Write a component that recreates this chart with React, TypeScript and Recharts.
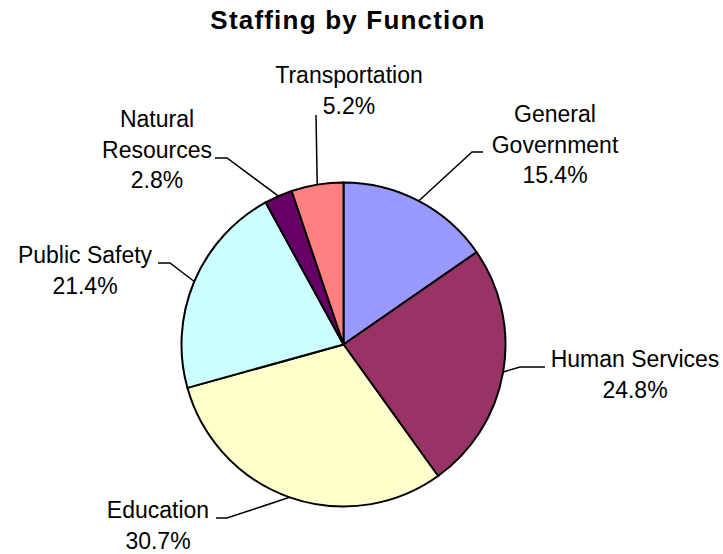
import React from "react";
import { PieChart, Pie, Cell } from "recharts";

const functions = [
  "General Government",
  "Human Services",
  "Education",
  "Public Safety",
  "Natural Resources",
  "Transportation",
];
const labelLines = [
  ["General", "Government"],
  ["Human Services"],
  ["Education"],
  ["Public Safety"],
  ["Natural", "Resources"],
  ["Transportation"],
];
const staffShare = [15.4, 24.8, 30.7, 21.4, 2.8, 5.2];
const sliceColors = ["#9999FF", "#993366", "#FFFFCC", "#CCFFFF", "#660066", "#FF8080"];

// where each label sits, relative to the pie centre
// tx/ty = text centre + first baseline, bx/by = leader elbow, hx = end of the flat bit
const labelSpots = [
  { tx: 211.5, ty: -222.5, bx: 128.5, by: -192.5, hx: 139.5 },
  { tx: 291.5, ty: 22.5, bx: 176.5, by: 22.5, hx: 201.5 },
  { tx: -185.5, ty: 173.5, bx: -116.5, by: 173.5, hx: -127.5 },
  { tx: -258.5, ty: -81.5, bx: -173.5, by: -81.5, hx: -185.5 },
  { tx: -186.5, ty: -217.5, bx: -116.5, by: -186.5, hx: -128.5 },
  { tx: 5.5, ty: -261.5, bx: -27.5, by: -229.5, hx: -27.5 },
];

const data = functions.map((name, i) => ({ name, share: staffShare[i] }));

const FONT = "'Liberation Sans', Arial, sans-serif";
const RAD = Math.PI / 180;

const renderLabel = (props: any) => {
  const { cx, cy, midAngle, outerRadius, index } = props;
  const spot = labelSpots[index];
  const ex = cx + outerRadius * Math.cos(-midAngle * RAD);
  const ey = cy + outerRadius * Math.sin(-midAngle * RAD);
  const lines = [...labelLines[index], staffShare[index].toFixed(1) + "%"];
  return (
    <g key={`lbl-${index}`}>
      <polyline
        points={`${ex},${ey} ${cx + spot.bx},${cy + spot.by} ${cx + spot.hx},${cy + spot.by}`}
        fill="none"
        stroke="#000"
        strokeWidth={1.5}
      />
      <text
        x={cx + spot.tx}
        y={cy + spot.ty}
        textAnchor="middle"
        fontSize={23}
        fontFamily={FONT}
        fill="#000"
      >
        {lines.map((l, i) => (
          <tspan key={i} x={cx + spot.tx} dy={i === 0 ? 0 : 30.5}>
            {l}
          </tspan>
        ))}
      </text>
    </g>
  );
};

export default function App() {
  return (
    <div style={{ position: "absolute", left: 0, top: 0, width: 723, height: 554, background: "#fff" }}>
      <div
        style={{
          position: "absolute",
          left: 0,
          top: 5,
          width: 696,
          textAlign: "center",
          fontFamily: FONT,
          fontWeight: "bold",
          fontSize: 26,
          letterSpacing: 1.2,
          lineHeight: "30px",
          color: "#000",
        }}
      >
        Staffing by Function
      </div>
      <PieChart width={723} height={554} margin={{ top: 0, right: 0, bottom: 0, left: 0 }}>
        <Pie
          data={data}
          dataKey="share"
          nameKey="name"
          cx={343.5}
          cy={344.5}
          outerRadius={162}
          startAngle={90}
          endAngle={-270}
          stroke="#000"
          strokeWidth={2}
          label={renderLabel}
          labelLine={false}
          isAnimationActive={false}
        >
          {data.map((d, i) => (
            <Cell key={d.name} fill={sliceColors[i]} />
          ))}
        </Pie>
      </PieChart>
    </div>
  );
}
